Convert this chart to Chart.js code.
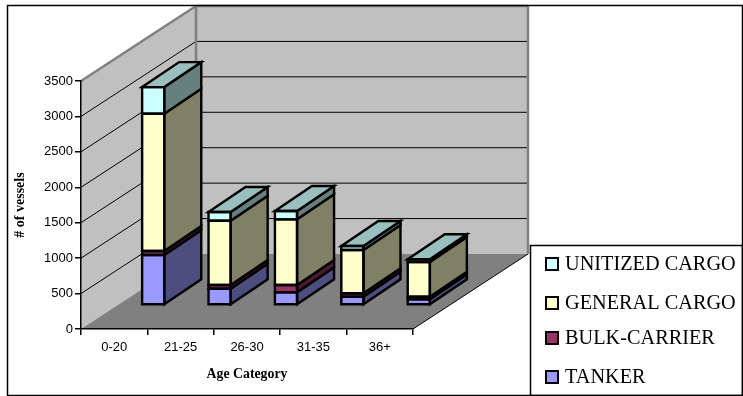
<!DOCTYPE html>
<html>
<head>
<meta charset="utf-8">
<title>Vessels by age category</title>
<script src="https://cdn.jsdelivr.net/npm/chart.js@4"></script>
<style>
html, body { margin: 0; padding: 0; background: #fff; }
canvas { display: block; }
</style>
</head>
<body>
<canvas id="chart" width="743" height="396"></canvas>
<script>
var categories = ['0-20', '21-25', '26-30', '31-35', '36+'];
var tanker = [705, 230, 179, 117, 80];
var bulkCarrier = [57, 52, 103, 48, 37];
var generalCargo = [1938, 907, 927, 611, 489];
var unitizedCargo = [375, 123, 117, 56, 39];

// depth of the floor, and where the bars stand on it
var wallDx = 115, wallDy = 75;
var frontDx = 39, frontDy = 24;
var barDx = 37, barDy = 25;

var legendRows = [264, 303, 338, 377];

function line(ctx, x1, y1, x2, y2) {
	ctx.beginPath();
	ctx.moveTo(x1, y1);
	ctx.lineTo(x2, y2);
	ctx.stroke();
}

function poly(ctx, pts, fill, stroke, width) {
	ctx.beginPath();
	ctx.moveTo(pts[0][0], pts[0][1]);
	for (var i = 1; i < pts.length; i++) ctx.lineTo(pts[i][0], pts[i][1]);
	ctx.closePath();
	if (fill) {
		ctx.fillStyle = fill;
		ctx.fill();
	}
	if (stroke) {
		ctx.strokeStyle = stroke;
		ctx.lineWidth = width;
		ctx.lineJoin = 'miter';
		ctx.stroke();
	}
}

// walls, floor and gridlines behind the bars
var box3d = {
	id: 'box3d',
	beforeDraw: function(chart) {
		var ctx = chart.ctx, a = chart.chartArea, y = chart.scales.y;
		ctx.save();
		ctx.fillStyle = '#fff';
		ctx.fillRect(0, 0, chart.width, chart.height);

		poly(ctx, [[a.left, a.top], [a.left + wallDx, a.top - wallDy], [a.left + wallDx, a.bottom - wallDy], [a.left, a.bottom]], '#c0c0c0');
		poly(ctx, [[a.left + wallDx, a.top - wallDy], [a.right + wallDx, a.top - wallDy], [a.right + wallDx, a.bottom - wallDy], [a.left + wallDx, a.bottom - wallDy]], '#c0c0c0');
		poly(ctx, [[a.left, a.bottom], [a.right, a.bottom], [a.right + wallDx, a.bottom - wallDy], [a.left + wallDx, a.bottom - wallDy]], '#808080');

		ctx.strokeStyle = '#000';
		ctx.lineWidth = 1;
		y.ticks.forEach(function(t) {
			if (t.value === 0 || t.value === y.max) return;
			var py = y.getPixelForValue(t.value);
			line(ctx, a.left, py, a.left + wallDx, py - wallDy);
			line(ctx, a.left + wallDx, py - wallDy, a.right + wallDx, py - wallDy);
		});
		line(ctx, a.right, a.bottom, a.right + wallDx, a.bottom - wallDy);

		ctx.strokeStyle = '#808080';
		ctx.lineWidth = 2.5;
		line(ctx, a.left, a.top, a.left + wallDx, a.top - wallDy);
		line(ctx, a.left + wallDx, a.top - wallDy, a.left + wallDx, a.bottom - wallDy);
		line(ctx, a.left + wallDx, a.top - wallDy, a.right + wallDx, a.top - wallDy);
		line(ctx, a.right + wallDx, a.top - wallDy, a.right + wallDx, a.bottom - wallDy);
		ctx.restore();
	},
	// native bars sit on the floor, pushed back from the front edge
	beforeDatasetDraw: function(chart) {
		chart.ctx.save();
		chart.ctx.translate(frontDx, -frontDy);
	},
	afterDatasetDraw: function(chart) {
		chart.ctx.restore();
	},
	afterDatasetsDraw: function(chart) {
		var ctx = chart.ctx;
		var last = chart.data.datasets.length - 1;
		ctx.save();
		ctx.translate(frontDx, -frontDy);
		chart.data.datasets.forEach(function(ds, d) {
			chart.getDatasetMeta(d).data.forEach(function(bar) {
				var l = bar.x - bar.width / 2, r = bar.x + bar.width / 2;
				poly(ctx, [[r, bar.y], [r + barDx, bar.y - barDy], [r + barDx, bar.base - barDy], [r, bar.base]], ds.sideColor, '#000', 2.4);
				if (d === last) {
					poly(ctx, [[l, bar.y], [l + barDx, bar.y - barDy], [r + barDx, bar.y - barDy], [r, bar.y]], ds.topColor, '#000', 2.4);
				}
				poly(ctx, [[l, bar.y], [r, bar.y], [r, bar.base], [l, bar.base]], null, '#000', 2.4);
			});
		});
		ctx.restore();
	},
	// legend panel and the outer frame
	afterDraw: function(chart) {
		var ctx = chart.ctx;
		ctx.save();
		ctx.fillStyle = '#fff';
		ctx.fillRect(530, 245, 213, 151);
		ctx.strokeStyle = '#000';
		ctx.lineWidth = 1.5;
		ctx.strokeRect(530.5, 245.5, 212, 150);
		ctx.strokeRect(7.5, 5.5, 735, 390);

		ctx.font = '20.3px "Liberation Serif"';
		ctx.textBaseline = 'middle';
		ctx.textAlign = 'left';
		chart.data.datasets.slice().reverse().forEach(function(ds, i) {
			var ly = legendRows[i];
			ctx.fillStyle = ds.backgroundColor;
			ctx.fillRect(546, ly - 6, 12, 12);
			ctx.lineWidth = 2;
			ctx.strokeStyle = '#000';
			ctx.strokeRect(546, ly - 6, 12, 12);
			ctx.fillStyle = '#000';
			ctx.fillText(ds.label, 565, ly + 1);
		});
		ctx.restore();
	}
};

new Chart(document.getElementById('chart').getContext('2d'), {
	type: 'bar',
	data: {
		labels: categories,
		datasets: [
			{ label: 'TANKER', data: tanker, backgroundColor: '#9999ff', sideColor: '#4d4d80', clip: false },
			{ label: 'BULK-CARRIER', data: bulkCarrier, backgroundColor: '#993366', sideColor: '#4d1a33', clip: false },
			{ label: 'GENERAL CARGO', data: generalCargo, backgroundColor: '#ffffcc', sideColor: '#808066', clip: false },
			{ label: 'UNITIZED CARGO', data: unitizedCargo, backgroundColor: '#ccffff', sideColor: '#668080', topColor: '#99bfbf', clip: false }
		]
	},
	options: {
		responsive: false,
		animation: false,
		events: [],
		layout: { padding: { top: 81, right: 330, left: 0, bottom: 0 } },
		categoryPercentage: 1,
		barPercentage: 1 / 3,
		plugins: { legend: { display: false }, tooltip: { enabled: false } },
		scales: {
			x: {
				stacked: true,
				afterFit: function(s) { s.height = 67; },
				grid: { offset: true, drawOnChartArea: false, color: '#000', tickLength: 6, lineWidth: 1.5 },
				border: { color: '#000', width: 1.5 },
				ticks: { color: '#000', font: { family: '"Liberation Sans"', size: 13 }, padding: 5, maxRotation: 0 },
				title: {
					display: true,
					text: 'Age Category',
					color: '#000',
					font: { family: '"Liberation Serif"', size: 13.8, weight: 'bold' },
					padding: { top: 0, bottom: 13 }
				}
			},
			y: {
				stacked: true,
				min: 0,
				max: 3500,
				afterFit: function(s) { s.width = 81; },
				grid: { drawOnChartArea: false, color: '#000', tickLength: 6, lineWidth: 1.5 },
				border: { color: '#000', width: 1.5 },
				ticks: {
					stepSize: 500,
					color: '#000',
					font: { family: '"Liberation Sans"', size: 13 },
					padding: 2,
					callback: function(v) { return String(v); }
				},
				title: {
					display: true,
					text: '# of vessels',
					color: '#000',
					font: { family: '"Liberation Serif"', size: 14, weight: 'bold' },
					padding: { top: 12, bottom: 0 }
				}
			}
		}
	},
	plugins: [box3d]
});
</script>
</body>
</html>
